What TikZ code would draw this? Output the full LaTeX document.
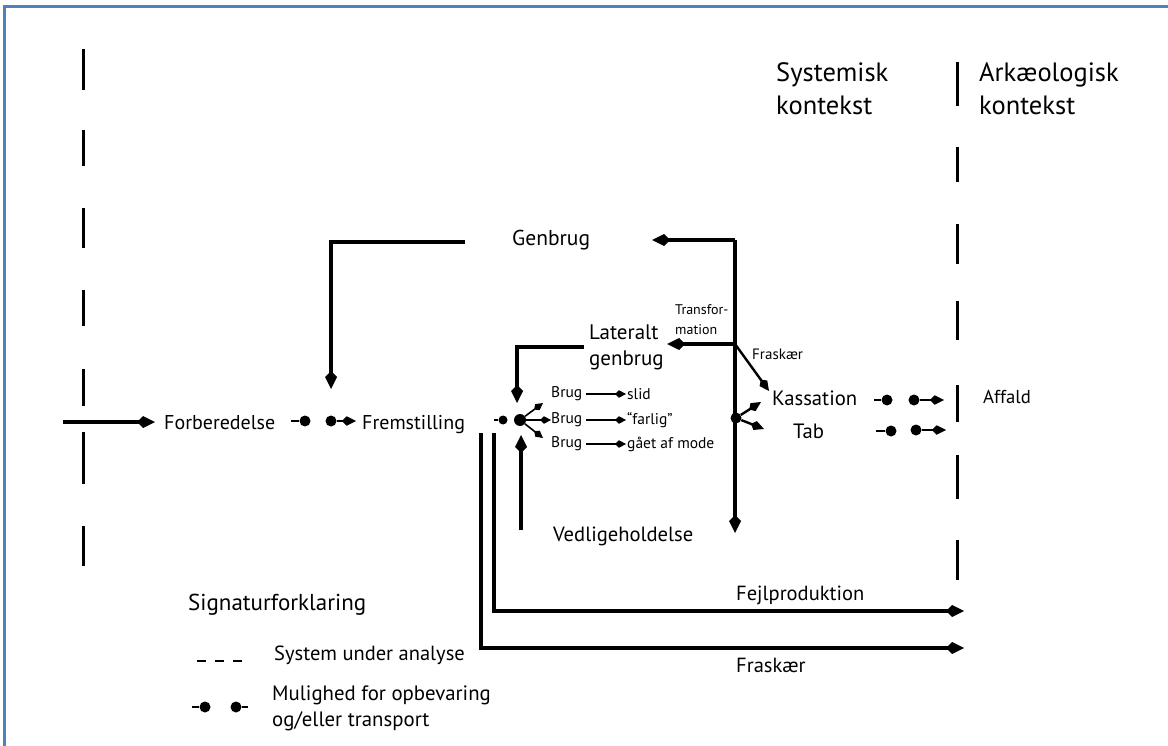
\documentclass[tikz,border=0pt]{standalone}
\usepackage{fontspec}
\setmainfont{PT Sans}
\usepackage{tikz}
\usetikzlibrary{arrows.meta,positioning}
\usepackage{xcolor}
\definecolor{frameblue}{RGB}{79,129,189}
\newcommand{\fsz}[1]{\fontsize{#1}{1.3\dimexpr #1pt\relax}\selectfont}

\begin{document}
\begin{tikzpicture}[x=1pt, y=-1pt,
    every node/.style={font=\fsz{20}, inner sep=0pt, anchor=west, align=left},
    flow/.style={line width=3.2pt, -{Kite[length=18pt,width=12pt,inset=6pt]}},
    thinflow/.style={line width=1.6pt, -{Kite[length=11pt,width=7.5pt,inset=4pt]}},
    midflow/.style={line width=2.4pt, -{Kite[length=14pt,width=9.5pt,inset=4.5pt]}},
    storeflow/.style={line width=2.4pt, -{Kite[length=14pt,width=9.5pt,inset=4.5pt]}},
    storeline/.style={line width=2.4pt},
    dot/.style={circle, fill, anchor=center, minimum size=11pt},
    sysline/.style={line width=3pt}]
  \useasboundingbox (0,0) rectangle (1168,746);
  \draw[frameblue, line width=2.5pt] (4.5,760) -- (4.5,6.5) -- (1180,6.5);

  % system boundaries (dashed)
  \foreach \a/\b in {49/90,130/166,208/248,290/326,369/406,432/484,526/566}
    \draw[sysline] (83,\a) -- (83,\b);
  \foreach \a/\b in {62/106,147/182,224/264,301/340,385/422,455/499,540/580}
    \draw[sysline] (957,\a) -- (957,\b);

  % headings
  \node[font=\fontsize{26.5}{33}\selectfont] (syskon) at (776,89) {Systemisk\\kontekst};
  \node[font=\fontsize{26.5}{33}\selectfont] (arkkon) at (979,89) {Arkæologisk\\kontekst};

  % main stages
  \node (forb) at (164,423) {Forberedelse};
  \node (frem) at (362,425) {Fremstilling};
  \node[font=\fsz{21.5}] (genbrug) at (512,240) {Genbrug};
  \node[font=\fontsize{21}{26}\selectfont] (lateralt) at (589,347) {Lateralt\\genbrug};
  \node[font=\fontsize{14}{20}\selectfont] (transf) at (675,320) {Transfor-\\mation};
  \node[font=\fsz{15}] (fraskaera) at (752,354) {Fraskær};
  \node[font=\fsz{20.7}] (kassation) at (772,398) {Kassation};
  \node[font=\fsz{20.7}] (tab) at (793,431) {Tab};
  \node[font=\fsz{18.7}] (affald) at (983,397) {Affald};
  \node[font=\fsz{20.6}] (vedl) at (553,536) {Vedligeholdelse};
  \node[font=\fsz{20.5}] (fejl) at (736,595) {Fejlproduktion};
  \node[font=\fsz{20.5}] (fraskaerb) at (736,665) {Fraskær};

  % use
  \foreach \i/\y/\res in {1/394/slid, 2/420/“farlig”, 3/444/gået af mode} {
    \node[font=\fsz{15.5}] (brug\i) at (551,\y) {Brug};
    \node[font=\fsz{15.5}] (res\i) at (627,\y) {\res};
    \draw[thinflow] ([xshift=4pt]brug\i.east) -- ([xshift=-1pt]res\i.west);
  }

  % junctions
  \coordinate (start) at (63,422);
  \coordinate (forbin) at (155,422);
  \coordinate (forbout) at (291,421);
  \node[dot] (forbdot) at (305,421) {};
  \node[dot] (fremdot) at (331,421) {};
  \coordinate (fremin) at (356,421);
  \coordinate (gbleft) at (465,242);
  \coordinate (gbcorner) at (331,242);
  \coordinate (gbend) at (331,389);
  \coordinate (top) at (735,240);
  \coordinate (gbtip) at (652,240);
  \coordinate (split) at (735,344);
  \coordinate (lattip) at (667,344);
  \coordinate (latleft) at (584,347);
  \coordinate (latcorner) at (517,347);
  \coordinate (latend) at (517,403);
  \coordinate (kastip) at (769,391);
  \node[dot] (fork) at (736,418) {};
  \coordinate (downend) at (735,533);
  \node[dot, minimum size=12pt] (hub) at (520,420) {};
  \coordinate (hubin) at (494,420);
  \node[dot, minimum size=9pt] (hubdot) at (503,420) {};
  \coordinate (vedlstart) at (521,530);
  \coordinate (vedltip) at (521,435);
  \coordinate (fejltop) at (494,433);
  \coordinate (fejlcorner) at (494,611);
  \coordinate (fejlend) at (964,611);
  \coordinate (frastop) at (481,433);
  \coordinate (frascorner) at (481,648);
  \coordinate (frasend) at (964,648);

  % flows
  \draw[flow] (start) -- (forbin);
  \draw[storeline] (forbout) -- (forbdot);
  \draw[storeflow] (fremdot) -- (fremin);
  \draw[flow] (gbleft) -- (gbcorner) -- (gbend);
  \draw[flow] (top) -- (downend);
  \draw[flow] (top) -- (gbtip);
  \draw[flow] (split) -- (lattip);
  \draw[flow] (latleft) -- (latcorner) -- (latend);
  \draw[midflow] (split) -- (kastip);
  \draw[midflow] (fork) -- (761,402);
  \draw[midflow] (fork) -- (764,429);
  \draw[storeline] (hubin) -- (hubdot);
  \draw[thinflow] (hub) -- (543,403);
  \draw[thinflow] (hub) -- (551,420);
  \draw[thinflow] (hub) -- (543,438);
  \draw[flow] (vedlstart) -- (vedltip);
  \draw[flow] (fejltop) -- (fejlcorner) -- (fejlend);
  \draw[flow] (frastop) -- (frascorner) -- (frasend);

  % storage before Affald
  \node[dot] (kasdota) at (887,400) {};
  \node[dot] (kasdotb) at (914,400) {};
  \node[dot] (tabdota) at (891,431) {};
  \node[dot] (tabdotb) at (916,430) {};
  \draw[storeline] (874,400) -- (kasdota);
  \draw[storeflow] (kasdotb) -- (944,400);
  \draw[storeline] (876,431) -- (tabdota);
  \draw[storeflow] (tabdotb) -- (946,430);

  % legend
  \node[font=\fsz{23}] (signatur) at (188,605) {Signaturforklaring};
  \draw[line width=1.3pt, dash pattern=on 9pt off 9pt] (197,661) -- (244,661);
  \node[font=\fsz{20.5}] (sysana) at (274,655) {System under analyse};
  \node[dot] (legdota) at (205,707) {};
  \node[dot] (legdotb) at (236,707) {};
  \draw[storeline] (192,707) -- (legdota);
  \draw[storeline] (legdotb) -- (248,707);
  \node[font=\fontsize{20.8}{26}\selectfont] (mulighed) at (272,708) {Mulighed for opbevaring\\og/eller transport};
\end{tikzpicture}
\end{document}
